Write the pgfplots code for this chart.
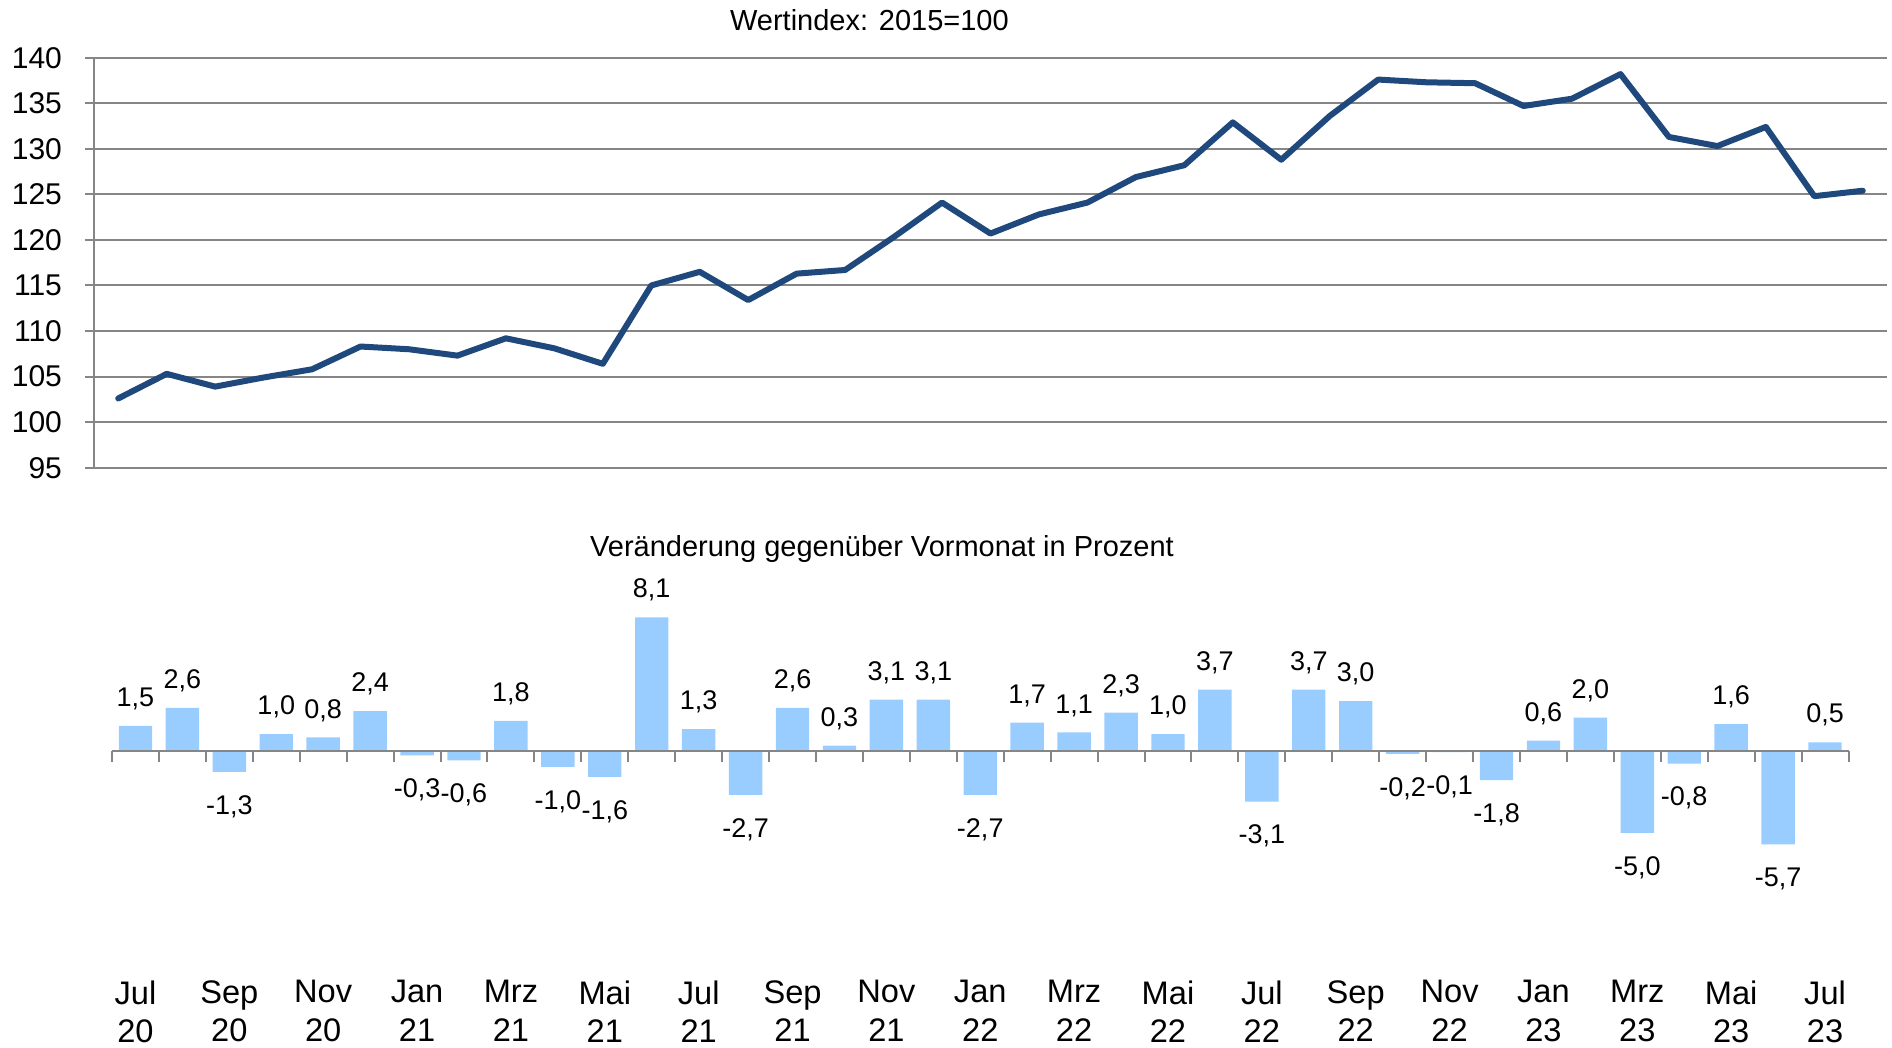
\documentclass[border=0pt]{standalone}
\usepackage{fontspec}
\setmainfont{Liberation Sans}
\usepackage{pgfplots}
\pgfplotsset{compat=1.18}
\definecolor{linec}{RGB}{31,73,125}
\definecolor{barc}{RGB}{153,204,255}
\definecolor{gridc}{RGB}{134,134,134}
\begin{document}
\begin{tikzpicture}
\useasboundingbox (0pt,-524pt) rectangle (946pt,0pt);
\node[anchor=base, font=\fontsize{14.5}{17}\selectfont] at (434.7pt,-15.5pt) {Wertindex: 2015=100};
\node[anchor=base, font=\fontsize{14.5}{17}\selectfont] at (441pt,-278pt) {Veränderung gegenüber Vormonat in Prozent};
\begin{axis}[
  at={(47pt,-233.85pt)}, anchor=south west,
  scale only axis, width=896.5pt, height=205pt,
  xmin=-0.5, xmax=36.5, ymin=95, ymax=140,
  ytick={95,100,...,140},
  xtick=\empty,
  axis x line=none,
  axis y line*=left,
  y axis line style={gridc, line width=1pt, -},
  ymajorgrids, grid style={gridc, line width=1pt},
  major tick length=4.5pt, tick align=outside, tick style={gridc, line width=1pt},
  yticklabel style={font=\fontsize{15}{18}\selectfont, /pgf/number format/assume math mode=true, black, xshift=-8pt},
  clip=false,
]
\addplot[linec, line width=3pt, line join=round, line cap=round] coordinates {
(0,102.6) (1,105.3) (2,103.9) (3,104.9) (4,105.8) (5,108.3) (6,108.0) (7,107.3) (8,109.2) (9,108.1)
(10,106.4) (11,115.0) (12,116.5) (13,113.4) (14,116.3) (15,116.7) (16,120.3) (17,124.1) (18,120.7) (19,122.8)
(20,124.1) (21,126.9) (22,128.2) (23,132.9) (24,128.8) (25,133.6) (26,137.6) (27,137.3) (28,137.2) (29,134.7)
(30,135.5) (31,138.2) (32,131.3) (33,130.3) (34,132.4) (35,124.8) (36,125.4)
};
\end{axis}
\begin{axis}[
  at={(56pt,-485.5pt)}, anchor=south west,
  scale only axis, width=868.25pt, height=192.5pt,
  xmin=-0.5, xmax=36.5, ymin=-13.4, ymax=10,
  axis x line=bottom, axis y line=none,
  x axis line style={draw=none},
  xtick={0,2,...,36},
  major tick length=0pt,
  xticklabels={{Jul\\20},{Sep\\20},{Nov\\20},{Jan\\21},{Mrz\\21},{Mai\\21},{Jul\\21},{Sep\\21},{Nov\\21},{Jan\\22},{Mrz\\22},{Mai\\22},{Jul\\22},{Sep\\22},{Nov\\22},{Jan\\23},{Mrz\\23},{Mai\\23},{Jul\\23}},
  xticklabel style={align=center, font=\fontsize{16.3}{19.2}\selectfont, inner ysep=4.5pt},
  ytick=\empty,
  clip=false,
  barlabel/.style={nodes near coords={\pgfmathprintnumber[fixed,fixed zerofill,precision=1,use comma,assume math mode=true]{\pgfplotspointmeta}}},
]
% positive changes
\addplot[ybar, bar shift=0pt, fill=barc, draw=none, bar width=16.7pt, barlabel,
  every node near coord/.append style={font=\fontsize{13.5}{16}\selectfont, anchor=south, inner ysep=7.75pt, black}
] coordinates {
(0,1.5) (1,2.6) (3,1.0) (4,0.8) (5,2.4) (8,1.8) (11,8.1) (12,1.3) (14,2.6) (15,0.3) (16,3.1) (17,3.1)
(19,1.7) (20,1.1) (21,2.3) (22,1.0) (23,3.7) (25,3.7) (26,3.0) (30,0.6) (31,2.0) (34,1.6) (36,0.5)
};
% negative changes
\addplot[ybar, bar shift=0pt, fill=barc, draw=none, bar width=16.7pt, barlabel,
  every node near coord/.append style={font=\fontsize{13.5}{16}\selectfont, anchor=north, inner ysep=11.5pt, black}
] coordinates {
(2,-1.3) (6,-0.3) (7,-0.6) (9,-1.0) (10,-1.6) (13,-2.7) (18,-2.7) (24,-3.1) (27,-0.2) (28,-0.1) (29,-1.8)
(32,-5.0) (33,-0.8) (35,-5.7)
};
\draw[gridc, line width=1pt] (axis cs:-0.5,0) -- (axis cs:36.5,0);
\pgfplotsinvokeforeach{-0.5,0.5,...,36.5}{
  \draw[gridc, line width=1pt] (axis cs:#1,0) -- ++(0pt,-5.5pt);
}
\end{axis}
\end{tikzpicture}
\end{document}
